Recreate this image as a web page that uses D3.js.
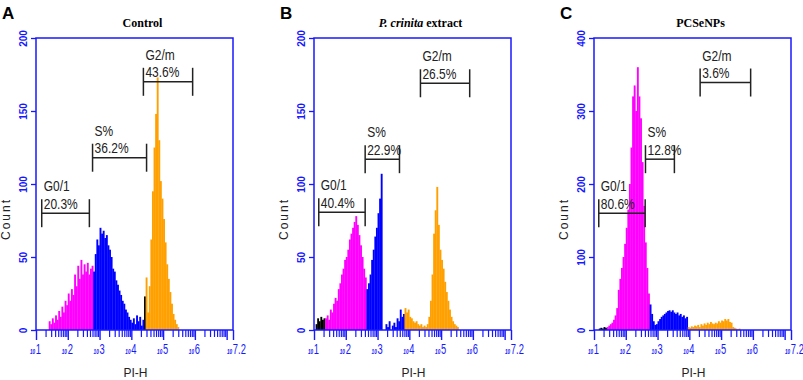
<!DOCTYPE html>
<html>
<head>
<meta charset="utf-8">
<script src="https://cdn.jsdelivr.net/npm/d3@7"></script>
<style>
  body { margin: 0; background: #fff; }
  svg { display: block; }
</style>
</head>
<body>
<div id="chart"></div>
<script>
// histogram bins are 0.05 decade wide on the PI-H log axis
var binWidth = 0.05;
var phaseNames = ["debris", "G0/1", "S", "G2/M"];

// Control
var controlStart = [4.40, 1.40, 2.80, 4.45];
var controlCounts = [
  [23],
  [6,4,8,5,10,7,13,9,16,12,20,17,25,20,28,24,38,30,44,35,48,38,45,40,46,38,42,44],
  [40,52,62,58,70,66,68,63,65,58,55,50,42,40,34,31,27,24,20,18,14,12,9,7,5,8,4,10,6,9,3,7],
  [36,12,30,62,95,125,148,173,130,102,90,76,60,45,35,26,18,11,7,4,2]
];
// P. crinita extract
var extractStart = [1.05, 1.35, 2.65, 3.85];
var extractCounts = [
  [4,8,6,9,7,8],
  [8,10,7,14,12,18,22,20,28,32,38,42,48,50,55,62,66,70,74,78,72,65,58,50,42,36],
  [28,32,38,48,55,64,70,80,90,107,0,0,4,2,6,0,3,5,2,8,6,14,9,11],
  [15,12,14,9,8,6,5,6,4,3,4,2,3,2,4,9,20,38,66,82,98,72,55,48,42,33,26,20,14,9,6,4,3,2]
];
// PCSeNPs
var pcsStart = [1.15, 1.40, 2.75, 3.95];
var pcsCounts = [
  [2,3,2,4,3],
  [4,6,8,10,14,20,30,55,70,85,100,118,140,165,200,250,320,335,300,360,320,290,230,170,120,85,50],
  [35,22,12,7,8,12,15,18,20,22,24,26,27,25,27,24,22,24,20,22,18,20,16,18],
  [4,3,5,4,6,5,7,4,8,6,9,7,10,8,11,9,8,10,9,12,10,13,12,15,13,15,11,10,4,3,2,1,2]
];

// gates: [from, to, bracket height in counts]
var gateNames = ["G0/1", "S%", "G2/m"];
var controlGates = [[1.18, 2.68, 80], [2.78, 4.48, 118], [4.38, 5.93, 170]];
var controlPct = ["20.3%", "36.2%", "43.6%"];
var extractGates = [[1.15, 2.61, 80.6], [2.61, 3.69, 117], [4.35, 5.90, 169]];
var extractPct = ["40.4%", "22.9%", "26.5%"];
var pcsGates = [[1.15, 2.61, 160], [2.62, 3.53, 234], [4.34, 5.93, 339]];
var pcsPct = ["80.6%", "12.8%", "3.6%"];

var letters = ["A", "B", "C"];
var titleItalic = ["", "P. crinita", ""];
var titleRest = ["Control", "extract", "PCSeNPs"];
var yMaxes = [200, 200, 400];
var yTicksSmall = [0, 50, 100, 150, 200];
var yTicksLarge = [0, 100, 200, 300, 400];
var xDomain = [1, 7.2];
var xLabelValues = [1, 2, 3, 4, 5, 6, 7.2];
var xLabelExps = ["1", "2", "3", "4", "5", "6", "7.2"];

var width = 803, height = 380;
var svg = d3.select("#chart").append("svg")
    .attr("width", width)
    .attr("height", height)
    .style("font-family", "'Liberation Sans', Arial, sans-serif");

var phaseColor = {"debris": "#000000", "G0/1": "#ff00ff", "S": "#0000ff", "G2/M": "#ffa000"};
var axisBlue = "#1818ff";
var panelLeft = [36, 314, 594];
var plotW = 197, plotTop = 38, plotBottom = 330;

var starts = [controlStart, extractStart, pcsStart];
var counts = [controlCounts, extractCounts, pcsCounts];
var gates = [controlGates, extractGates, pcsGates];
var pcts = [controlPct, extractPct, pcsPct];

// minor ticks at 2..9 of every decade
var minorTicks = [];
for (var d = 1; d < 7; d++) {
  for (var k = 2; k <= 9; k++) minorTicks.push(d + Math.log10(k));
}

letters.forEach(function(letter, p){
    var left = panelLeft[p];
    var x = d3.scaleLinear().domain(xDomain).range([left, left + plotW]);
    var y = d3.scaleLinear().domain([0, yMaxes[p]]).range([plotBottom, plotTop]);
    var g = svg.append("g");

    // panel letter
    svg.append("text")
        .attr("x", left - 34)
        .attr("y", 19)
        .attr("font-size", 17)
        .attr("font-weight", "bold")
        .text(letter);

    // title
    var title = svg.append("text")
        .attr("x", left + plotW / 2 + 8)
        .attr("y", 27)
        .attr("text-anchor", "middle")
        .attr("font-family", "'Liberation Serif', 'Times New Roman', serif")
        .attr("font-weight", "bold")
        .attr("font-size", 12);
    if (titleItalic[p]) {
        title.append("tspan").attr("font-style", "italic").text(titleItalic[p] + " ");
    }
    title.append("tspan").text(titleRest[p]);

    // histogram bars
    phaseNames.forEach(function(phase, i){
        var s = starts[p][i];
        g.selectAll(".bar-" + i)
            .data(counts[p][i])
            .enter()
            .append("rect")
            .attr("x", function(c, j){ return x(s + j * binWidth); })
            .attr("width", function(c, j){ return x(s + (j + 1) * binWidth) - x(s + j * binWidth) + 0.3; })
            .attr("y", function(c){ return y(c); })
            .attr("height", function(c){ return y(0) - y(c); })
            .attr("fill", phaseColor[phase]);
    });

    // plot frame
    g.append("rect")
        .attr("x", left)
        .attr("y", plotTop)
        .attr("width", plotW)
        .attr("height", plotBottom - plotTop)
        .attr("fill", "none")
        .attr("stroke", axisBlue)
        .attr("stroke-width", 1.5);

    // y axis
    var yAxis = g.append("g")
        .attr("transform", "translate(" + left + ",0)")
        .call(d3.axisLeft(y).tickValues(yMaxes[p] > 200 ? yTicksLarge : yTicksSmall).tickSize(5));
    yAxis.select(".domain").remove();
    yAxis.selectAll("line").attr("stroke", axisBlue).attr("stroke-width", 1.3);
    yAxis.selectAll("text")
        .attr("x", 0).attr("dy", 0)
        .attr("transform", "translate(-9,0) rotate(-90)")
        .attr("text-anchor", "middle")
        .attr("fill", axisBlue)
        .attr("font-weight", "bold")
        .attr("font-size", 10)
        .attr("font-family", "'Liberation Sans', Arial, sans-serif");

    // x axis: minor and major ticks
    var xMinor = g.append("g")
        .attr("transform", "translate(0," + plotBottom + ")")
        .call(d3.axisBottom(x).tickValues(minorTicks).tickSize(7).tickFormat(""));
    xMinor.select(".domain").remove();
    xMinor.selectAll("line").attr("stroke", axisBlue).attr("stroke-width", 1.2);
    var xMajor = g.append("g")
        .attr("transform", "translate(0," + plotBottom + ")")
        .call(d3.axisBottom(x).tickValues([1, 2, 3, 4, 5, 6, 7, 7.2]).tickSize(10).tickFormat(""));
    xMajor.select(".domain").remove();
    xMajor.selectAll("line").attr("stroke", axisBlue).attr("stroke-width", 1.4);

    // decade labels, small "10" with a narrow exponent
    xLabelValues.forEach(function(v, i){
        var t = g.append("text")
            .attr("transform", "translate(" + (x(v) - 6) + ",354) scale(0.67,1)")
            .attr("fill", axisBlue);
        t.append("tspan")
            .attr("font-size", 7)
            .attr("font-style", "italic")
            .attr("font-weight", "bold")
            .text("10");
        t.append("tspan")
            .attr("font-size", 14)
            .attr("dx", 1)
            .text(xLabelExps[i]);
    });

    // axis titles
    g.append("text")
        .attr("x", left + plotW / 2 + 1)
        .attr("y", 377)
        .attr("text-anchor", "middle")
        .attr("font-size", 12)
        .attr("fill", "#222")
        .text("PI-H");
    g.append("text")
        .attr("transform", "translate(" + (left - 26) + ",219) rotate(-90)")
        .attr("text-anchor", "middle")
        .attr("font-size", 12)
        .attr("letter-spacing", 2)
        .attr("fill", "#222")
        .text("Count");

    // gate brackets with labels
    gates[p].forEach(function(gt, i){
        var x0 = x(gt[0]), x1 = x(gt[1]), yy = y(gt[2]);
        var b = g.append("g").attr("stroke", "#222").attr("stroke-width", 1.5);
        b.append("line").attr("x1", x0).attr("x2", x1).attr("y1", yy).attr("y2", yy);
        b.append("line").attr("x1", x0).attr("x2", x0).attr("y1", yy - 14).attr("y2", yy + 14);
        b.append("line").attr("x1", x1).attr("x2", x1).attr("y1", yy - 14).attr("y2", yy + 14);
        g.append("text")
            .attr("transform", "translate(" + (x0 + 2) + "," + (yy - 22) + ") scale(0.8,1)")
            .attr("font-size", 15)
            .attr("fill", "#222")
            .text(gateNames[i]);
        g.append("text")
            .attr("transform", "translate(" + (x0 + 2) + "," + (yy - 4.5) + ") scale(0.8,1)")
            .attr("font-size", 15)
            .attr("fill", "#222")
            .text(pcts[p][i]);
    });
});
</script>
</body>
</html>
